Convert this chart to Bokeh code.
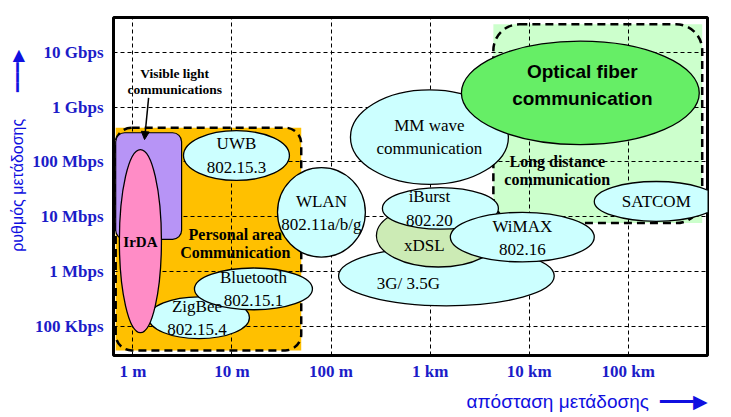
import numpy as np
from bokeh.plotting import figure
from bokeh.models import (ColumnDataSource, FixedTicker, Range1d, Arrow, NormalHead,
                          Title)
from bokeh.core.properties import value
from bokeh.embed import file_html
from bokeh.resources import INLINE

# ---------------- data ----------------
x_ticks_m = [1, 10, 100, 1000, 10000, 100000]
x_tick_labels = ["1 m", "10 m", "100 m", "1 km", "10 km", "100 km"]
y_ticks_bps = [1e5, 1e6, 1e7, 1e8, 1e9, 1e10]
y_tick_labels = ["100 Kbps", "1 Mbps", "10 Mbps", "100 Mbps", "1 Gbps", "10 Gbps"]
x_title = "απόσταση μετάδοσης"
y_title = "ρυθμός μετάδοσης"

# application regions (distance in m, rate in bps)
region_names = ["Personal area\nCommunication", "Long distance\ncommunication"]
region_dist_lo = [0.67, 4350]
region_dist_hi = [50, 558000]
region_rate_lo = [3.7e4, 7.7e6]
region_rate_hi = [4.2e8, 3.2e10]
region_label_dist = [10.8, 19200]
region_label_rate = [3.3e6, 7.0e7]

# visible light communications block
vlc_dist = [0.67, 3.1]
vlc_rate = [3.9e6, 3.4e8]
vlc_label_dist = 2.64
vlc_label_rate = 2.87e9
vlc_arrow_from = (1.44, 1.47e9)
vlc_arrow_to = (1.31, 2.55e8)

# technologies (draw order)
tech_names = ["MM wave\ncommunication", "Optical fiber\ncommunication", "SATCOM",
              "3G/ 3.5G", "xDSL", "iBurst\n802.20", "WiMAX\n802.16",
              "UWB\n802.15.3", "WLAN\n802.11a/b/g", "ZigBee\n802.15.4",
              "Bluetooth\n802.15.1", "IrDA"]
tech_dist_lo = [157, 2070, 45400, 119, 287, 330, 1600, 3.24, 28.8, 1.44, 4.18, 0.73]
tech_dist_hi = [6170, 521000, 810000, 17900, 5100, 4890, 45400, 38, 222, 15, 64.9, 1.94]
tech_rate_lo = [3.9e7, 2.07e8, 8.3e6, 2.4e5, 1.22e6, 5.96e6, 1.51e6, 4.6e7, 1.85e6,
                6.06e4, 2.03e5, 7.8e4]
tech_rate_hi = [2.05e9, 1.58e10, 4.4e7, 2.93e6, 1.69e7, 3.4e7, 1.21e7, 3.71e8, 7.9e7,
                3.49e5, 1.17e6, 1.68e8]

# ---------------- styling ----------------
CYAN = "#CCFFFF"
tech_colors = [CYAN, "#66EE66", CYAN, CYAN, "#CCEBB5", CYAN, CYAN, CYAN, CYAN,
               CYAN, CYAN, "#FF8CC6"]
label_dx = [0, 2, 0, -38, -14, -11, 0, 0, 0, -2, 0, 0]
label_dy = [0, -8, 0, 8, 10, 0, 1, 0, 1, 0, 0, 1]
region_colors = ["#FFC000", "#CCFFCC"]
region_radius = [16, 26]
BLUE = "#1C1CC8"
TBLUE = "#1010E0"
SERIF = "Liberation Serif"
SANS = "Liberation Sans"
ARROW = "\u2501\u2501\u2501\u25B6"
NBSP = "\u00A0"

lg = np.log10
tx_lo, tx_hi = lg(tech_dist_lo), lg(tech_dist_hi)
ty_lo, ty_hi = lg(tech_rate_lo), lg(tech_rate_hi)
tech_src = ColumnDataSource(dict(
    x=(tx_lo + tx_hi) / 2, y=(ty_lo + ty_hi) / 2,
    w=tx_hi - tx_lo, h=ty_hi - ty_lo,
    color=tech_colors, name=tech_names, dx=label_dx, dy=label_dy))

reg_src = ColumnDataSource(dict(
    left=lg(region_dist_lo), right=lg(region_dist_hi),
    bottom=lg(region_rate_lo), top=lg(region_rate_hi),
    color=region_colors))

p = figure(width=725, height=416, output_backend="svg", toolbar_location=None,
           x_range=Range1d(-0.196, 5.80), y_range=Range1d(4.475, 10.63),
           min_border_left=113, min_border_right=18, min_border_top=17,
           min_border_bottom=59)
p.background_fill_color = "white"
p.border_fill_color = "white"
p.outline_line_color = "black"
p.outline_line_width = 3

# axes
p.xaxis.ticker = FixedTicker(ticks=list(lg(x_ticks_m)))
p.yaxis.ticker = FixedTicker(ticks=list(lg(y_ticks_bps)))
p.xaxis.major_label_overrides = {float(t): s for t, s in zip(lg(x_ticks_m), x_tick_labels)}
p.yaxis.major_label_overrides = {float(t): s for t, s in zip(lg(y_ticks_bps), y_tick_labels)}
for ax in (p.xaxis, p.yaxis):
    ax.axis_line_color = None
    ax.major_tick_line_color = None
    ax.minor_tick_line_color = None
    ax.major_tick_out = 0
    ax.major_tick_in = 0
    ax.major_label_text_font = SERIF
    ax.major_label_text_font_style = "bold"
    ax.major_label_text_font_size = "17px"
    ax.major_label_text_color = BLUE
p.xaxis.major_label_standoff = 6
p.yaxis.major_label_standoff = 10
p.yaxis.axis_label = NBSP * 16 + y_title + NBSP * 6 + ARROW
p.yaxis.axis_label_text_font = SANS
p.yaxis.axis_label_text_font_style = "normal"
p.yaxis.axis_label_text_font_size = "16px"
p.yaxis.axis_label_text_color = TBLUE
p.yaxis.axis_label_standoff = 3

xt = Title(text=x_title + NBSP * 2 + ARROW, align="right", text_font=SANS,
           text_font_size="19px", text_font_style="normal", text_color=TBLUE,
           standoff=10)
p.add_layout(xt, "below")

# grid
for g in (p.xgrid, p.ygrid):
    g.grid_line_color = "black"
    g.grid_line_dash = "4 3"
    g.grid_line_width = 1
p.xgrid.ticker = p.xaxis.ticker
p.ygrid.ticker = p.yaxis.ticker

# region fills (beneath grid)
fill_r = p.quad(left="left", right="right", bottom="bottom", top="top", source=reg_src,
                fill_color="color", line_color=None)
fill_r.level = "image"
# region dashed outlines (rounded)
for i in range(len(region_names)):
    p.quad(left=[reg_src.data["left"][i]], right=[reg_src.data["right"][i]],
           bottom=[reg_src.data["bottom"][i]], top=[reg_src.data["top"][i]],
           fill_color=None, line_color="black", line_width=2.5, line_dash="8 5",
           border_radius=region_radius[i])

# visible light block
p.quad(left=[lg(vlc_dist[0])], right=[lg(vlc_dist[1])], bottom=[lg(vlc_rate[0])],
       top=[lg(vlc_rate[1])], fill_color="#B794F6", line_color="black", line_width=1.2,
       border_radius=9)

# technologies
p.ellipse(x="x", y="y", width="w", height="h", source=tech_src, fill_color="color",
          line_color="black", line_width=1.3)

# labels
normal_idx = [i for i, n in enumerate(tech_names) if n not in ("IrDA", "Optical fiber\ncommunication")]
def sub(idx):
    d = tech_src.data
    return ColumnDataSource({k: [d[k][i] for i in idx] for k in d})

p.text(x="x", y="y", text="name", source=sub(normal_idx), x_offset="dx", y_offset="dy",
       text_align="center", text_baseline="middle", text_font=value(SERIF),
       text_font_size="17px", text_line_height=1.22, text_color="black")
p.text(x="x", y="y", text="name", source=sub([tech_names.index("IrDA")]),
       x_offset="dx", y_offset="dy", text_align="center", text_baseline="middle",
       text_font=value(SERIF), text_font_style="bold", text_font_size="15px",
       text_color="black")
p.text(x="x", y="y", text="name",
       source=sub([tech_names.index("Optical fiber\ncommunication")]),
       x_offset="dx", y_offset="dy", text_align="center", text_baseline="middle",
       text_font=value(SANS), text_font_style="bold", text_font_size="19px",
       text_line_height=1.25, text_color="black")
p.text(x=list(lg(region_label_dist)), y=list(lg(region_label_rate)), text=region_names,
       text_align="center", text_baseline="middle", text_font=value(SERIF),
       text_font_style="bold", text_font_size="16px", text_line_height=1.05,
       text_color="black")
p.text(x=[lg(vlc_label_dist)], y=[lg(vlc_label_rate)],
       text=["Visible light\ncommunications"], text_align="center",
       text_baseline="middle", text_font=value(SERIF), text_font_style="bold",
       text_font_size="13.5px", text_line_height=1.05, text_color="black")
p.add_layout(Arrow(end=NormalHead(size=8, fill_color="black", line_color="black"),
                   x_start=lg(vlc_arrow_from[0]), y_start=lg(vlc_arrow_from[1]),
                   x_end=lg(vlc_arrow_to[0]), y_end=lg(vlc_arrow_to[1]),
                   line_color="black", line_width=1.5))

open("out.html", "w").write(file_html(p, INLINE))
